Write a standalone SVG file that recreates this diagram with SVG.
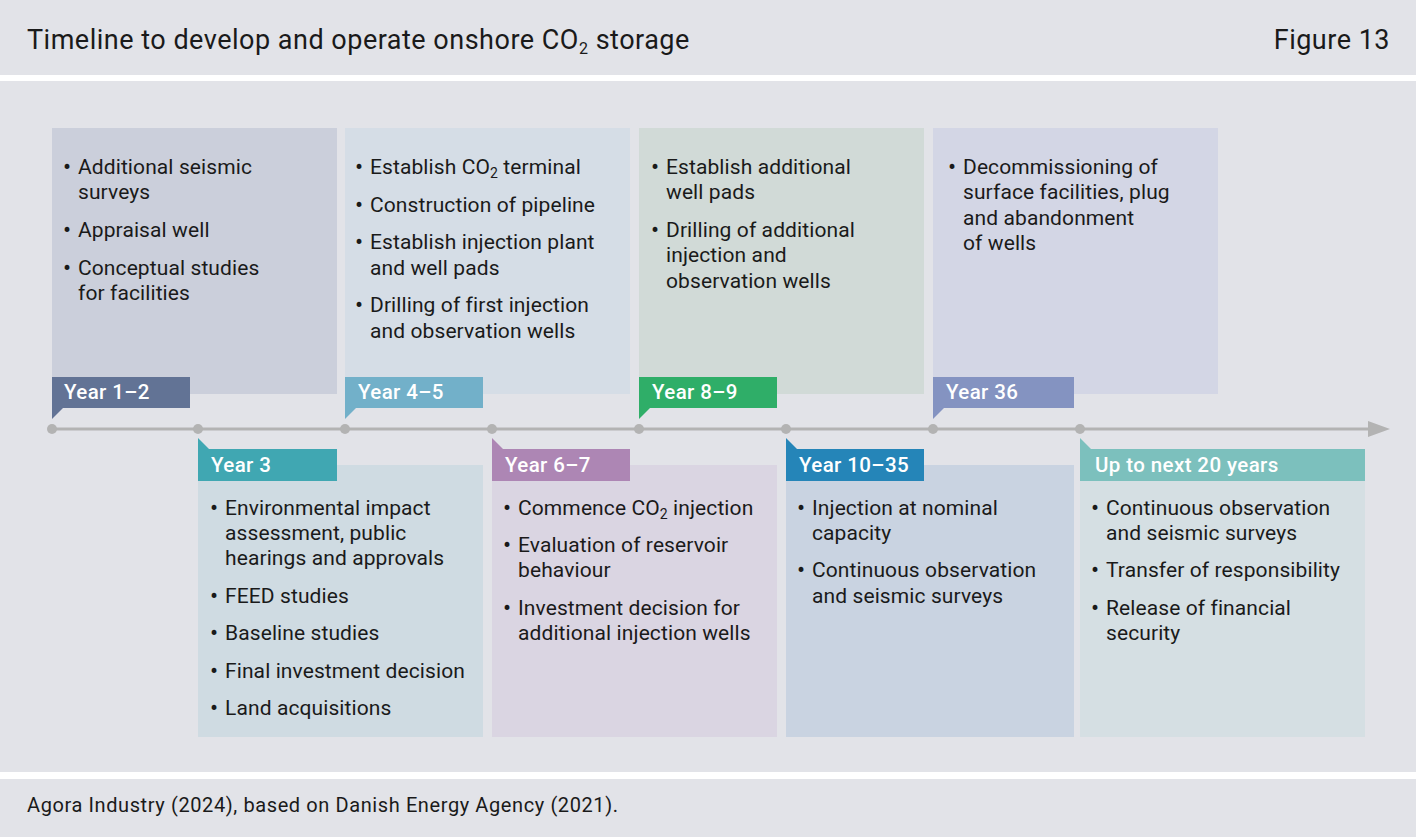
<svg xmlns="http://www.w3.org/2000/svg" width="1416" height="837" viewBox="0 0 1416 837">
<style>
.bg{fill:#e2e3e8}
.t{font-family:Roboto,"Noto Sans",sans-serif;font-size:21px;letter-spacing:0.1px;fill:#1a1a1a}
.b{font-size:24px}
.h{font-family:Roboto,"Noto Sans",sans-serif;font-size:27px;fill:#1a1a1a}
.f{font-family:Roboto,"Noto Sans",sans-serif;font-size:20px;letter-spacing:0.6px;fill:#1a1a1a}
.tag{font-family:Roboto,"Noto Sans",sans-serif;font-size:20.5px;letter-spacing:0.4px;fill:#ffffff;font-weight:500}
.sub{font-size:14px}
.dot{fill:#b3b3b3}
</style>
<rect x="0" y="0" width="1416" height="837" fill="#ffffff"/>
<rect class="bg" x="0" y="0" width="1416" height="75"/>
<rect class="bg" x="0" y="81" width="1416" height="691"/>
<rect class="bg" x="0" y="779" width="1416" height="58"/>
<text class="h" x="27" y="49" letter-spacing="0.5">Timeline to develop and operate onshore CO<tspan style="font-size:16px" dy="5">2</tspan><tspan dy="-5"> storage</tspan></text>
<text class="h" x="1390" y="49" text-anchor="end" letter-spacing="0.5">Figure 13</text>
<text class="f" x="27" y="812">Agora Industry (2024), based on Danish Energy Agency (2021).</text>

<g id="p1">
<rect x="52" y="128" width="285" height="266" fill="#cbcfdb"/>
<rect x="52" y="377" width="138" height="31" fill="#627395"/>
<polygon points="52,408 63,408 52,419" fill="#627395"/>
<text class="tag" x="64" y="399">Year 1–2</text>
<text class="t"><tspan class="b" x="63" y="175">•</tspan><tspan x="78" y="174">Additional seismic</tspan><tspan x="78" y="199">surveys</tspan><tspan class="b" x="63" y="238">•</tspan><tspan x="78" y="237">Appraisal well</tspan><tspan class="b" x="63" y="276">•</tspan><tspan x="78" y="275">Conceptual studies</tspan><tspan x="78" y="300">for facilities</tspan></text>
</g>

<g id="p2">
<rect x="198" y="465" width="285" height="272" fill="#cfdbe2"/>
<rect x="198" y="449" width="139" height="32" fill="#40a7b2"/>
<polygon points="198,438 209,449 198,449" fill="#40a7b2"/>
<text class="tag" x="211" y="472">Year 3</text>
<text class="t"><tspan class="b" x="210" y="516">•</tspan><tspan x="225" y="515">Environmental impact</tspan><tspan x="225" y="540">assessment, public</tspan><tspan x="225" y="565">hearings and approvals</tspan><tspan class="b" x="210" y="604">•</tspan><tspan x="225" y="603">FEED studies</tspan><tspan class="b" x="210" y="641">•</tspan><tspan x="225" y="640">Baseline studies</tspan><tspan class="b" x="210" y="679">•</tspan><tspan x="225" y="678">Final investment decision</tspan><tspan class="b" x="210" y="716">•</tspan><tspan x="225" y="715">Land acquisitions</tspan></text>
</g>

<g id="p3">
<rect x="345" y="128" width="285" height="266" fill="#d5dde6"/>
<rect x="345" y="377" width="138" height="31" fill="#72b0c9"/>
<polygon points="345,408 356,408 345,419" fill="#72b0c9"/>
<text class="tag" x="358" y="399">Year 4–5</text>
<text class="t"><tspan class="b" x="355" y="175">•</tspan><tspan x="370" y="174">Establish CO</tspan><tspan class="sub" dy="4">2</tspan><tspan dy="-4"> terminal</tspan><tspan class="b" x="355" y="213">•</tspan><tspan x="370" y="212">Construction of pipeline</tspan><tspan class="b" x="355" y="250">•</tspan><tspan x="370" y="249">Establish injection plant</tspan><tspan x="370" y="275">and well pads</tspan><tspan class="b" x="355" y="313">•</tspan><tspan x="370" y="312">Drilling of first injection</tspan><tspan x="370" y="338">and observation wells</tspan></text>
</g>

<g id="p4">
<rect x="492" y="465" width="285" height="272" fill="#dad5e2"/>
<rect x="492" y="449" width="138" height="32" fill="#ad86b4"/>
<polygon points="492,438 503,449 492,449" fill="#ad86b4"/>
<text class="tag" x="505" y="472">Year 6–7</text>
<text class="t"><tspan class="b" x="503" y="516">•</tspan><tspan x="518" y="515">Commence CO</tspan><tspan class="sub" dy="4">2</tspan><tspan dy="-4"> injection</tspan><tspan class="b" x="503" y="553">•</tspan><tspan x="518" y="552">Evaluation of reservoir</tspan><tspan x="518" y="577">behaviour</tspan><tspan class="b" x="503" y="616">•</tspan><tspan x="518" y="615">Investment decision for</tspan><tspan x="518" y="640">additional injection wells</tspan></text>
</g>

<g id="p5">
<rect x="639" y="128" width="285" height="266" fill="#d1dad7"/>
<rect x="639" y="377" width="138" height="31" fill="#2fae68"/>
<polygon points="639,408 650,408 639,419" fill="#2fae68"/>
<text class="tag" x="652" y="399">Year 8–9</text>
<text class="t"><tspan class="b" x="651" y="175">•</tspan><tspan x="666" y="174">Establish additional</tspan><tspan x="666" y="199">well pads</tspan><tspan class="b" x="651" y="238">•</tspan><tspan x="666" y="237">Drilling of additional</tspan><tspan x="666" y="262">injection and</tspan><tspan x="666" y="288">observation wells</tspan></text>
</g>

<g id="p6">
<rect x="786" y="465" width="288" height="272" fill="#c9d3e1"/>
<rect x="786" y="449" width="138" height="32" fill="#2585b8"/>
<polygon points="786,438 797,449 786,449" fill="#2585b8"/>
<text class="tag" x="799" y="472">Year 10–35</text>
<text class="t"><tspan class="b" x="797" y="516">•</tspan><tspan x="812" y="515">Injection at nominal</tspan><tspan x="812" y="540">capacity</tspan><tspan class="b" x="797" y="578">•</tspan><tspan x="812" y="577">Continuous observation</tspan><tspan x="812" y="603">and seismic surveys</tspan></text>
</g>

<g id="p7">
<rect x="933" y="128" width="285" height="266" fill="#d3d6e5"/>
<rect x="933" y="377" width="141" height="31" fill="#8493c1"/>
<polygon points="933,408 944,408 933,419" fill="#8493c1"/>
<text class="tag" x="946" y="399">Year 36</text>
<text class="t"><tspan class="b" x="948" y="175">•</tspan><tspan x="963" y="174">Decommissioning of</tspan><tspan x="963" y="199">surface facilities, plug</tspan><tspan x="963" y="225">and abandonment</tspan><tspan x="963" y="250">of wells</tspan></text>
</g>

<g id="p8">
<rect x="1080" y="465" width="285" height="272" fill="#d5dfe3"/>
<rect x="1080" y="449" width="285" height="32" fill="#7cc0bd"/>
<polygon points="1080,438 1091,449 1080,449" fill="#7cc0bd"/>
<text class="tag" x="1095" y="472">Up to next 20 years</text>
<text class="t"><tspan class="b" x="1091" y="516">•</tspan><tspan x="1106" y="515">Continuous observation</tspan><tspan x="1106" y="540">and seismic surveys</tspan><tspan class="b" x="1091" y="578">•</tspan><tspan x="1106" y="577">Transfer of responsibility</tspan><tspan class="b" x="1091" y="616">•</tspan><tspan x="1106" y="615">Release of financial</tspan><tspan x="1106" y="640">security</tspan></text>
</g>

<g id="connectors">
<line x1="52" y1="429" x2="1370" y2="429" stroke="#b3b3b3" stroke-width="3"/>
<polygon points="1368,421 1390,429 1368,437" fill="#b3b3b3"/>
<circle class="dot" cx="52" cy="429" r="5"/>
<circle class="dot" cx="198" cy="429" r="5"/>
<circle class="dot" cx="345" cy="429" r="5"/>
<circle class="dot" cx="492" cy="429" r="5"/>
<circle class="dot" cx="639" cy="429" r="5"/>
<circle class="dot" cx="786" cy="429" r="5"/>
<circle class="dot" cx="933" cy="429" r="5"/>
<circle class="dot" cx="1080" cy="429" r="5"/>
</g>
</svg>
